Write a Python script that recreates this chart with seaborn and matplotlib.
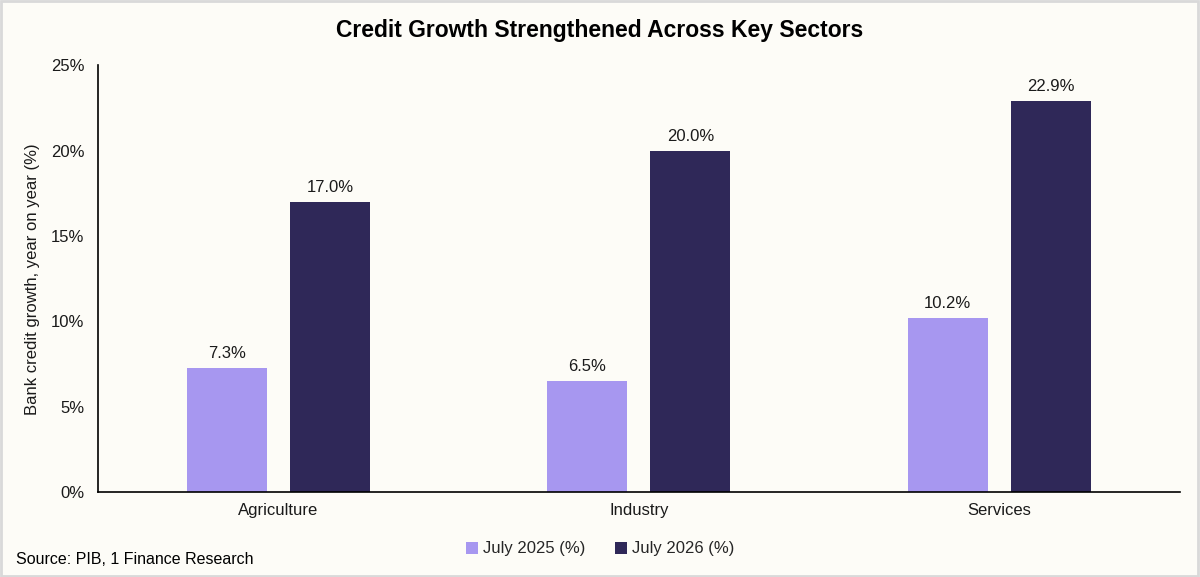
import numpy as np
import pandas as pd
import matplotlib
matplotlib.use('Agg')
import matplotlib.pyplot as plt
import seaborn as sns
from matplotlib.ticker import PercentFormatter

sectors = ['Agriculture', 'Industry', 'Services']
series_names = ['July 2025 (%)', 'July 2026 (%)']
july_2025 = [7.3, 6.5, 10.2]
july_2026 = [17.0, 20.0, 22.9]
colors = ['#A797F0', '#2F2858']
bg = '#FDFCF7'

df = pd.DataFrame({
    'sector': sectors * 2,
    'series': [series_names[0]] * 3 + [series_names[1]] * 3,
    'value': july_2025 + july_2026,
})

sns.set_theme(style='white')
plt.rcParams['font.family'] = ['Liberation Sans', 'DejaVu Sans']

fig = plt.figure(figsize=(12, 5.77), dpi=100, facecolor=bg)
ax = fig.add_axes([0.0817, 0.147, 0.9013, 0.740])
ax.set_facecolor(bg)

sns.barplot(data=df, x='sector', y='value', hue='series', order=sectors,
            hue_order=series_names, palette=colors, width=0.572, gap=0.223,
            saturation=1, linewidth=0, ax=ax, legend=True)

for cont in ax.containers:
    ax.bar_label(cont, labels=[f'{v:.1f}%' for v in cont.datavalues],
                 padding=5, fontsize=12, color='#1a1a1a')

ax.set_ylim(0, 25)
ax.set_yticks(np.arange(0, 26, 5))
ax.yaxis.set_major_formatter(PercentFormatter(decimals=0))
ax.tick_params(axis='both', length=0, labelsize=12, colors='#1a1a1a', pad=8)
ax.tick_params(axis='y', pad=10)
ax.set_xlabel('')
ax.set_ylabel('Bank credit growth, year on year (%)', fontsize=12, color='#1a1a1a', labelpad=8)

for s in ['top', 'right']:
    ax.spines[s].set_visible(False)
for s in ['left', 'bottom']:
    ax.spines[s].set_color('#000000')
    ax.spines[s].set_linewidth(1.2)

leg = ax.legend(loc='center', ncol=2, frameon=False, fontsize=12, handlelength=0.7,
                handleheight=0.7, handletextpad=0.3, columnspacing=1.8)
leg.set_bbox_to_anchor((0.5, 1 - 549 / 577), transform=fig.transFigure)

fig.text(0.5, 1 - 30 / 577, 'Credit Growth Strengthened Across Key Sectors', ha='center', va='center',
         fontsize=16.5, fontweight='bold', color='#000000')
fig.text(0.013, 1 - 559 / 577, 'Source: PIB, 1 Finance Research', ha='left', va='center',
         fontsize=11.5, color='#000000')

border = plt.Rectangle((0.001, 0.002), 0.997, 0.996, transform=fig.transFigure, fill=False,
                       edgecolor='#D9D9D9', linewidth=2)
fig.add_artist(border)

fig.savefig('out.png', dpi=100, facecolor=bg)
